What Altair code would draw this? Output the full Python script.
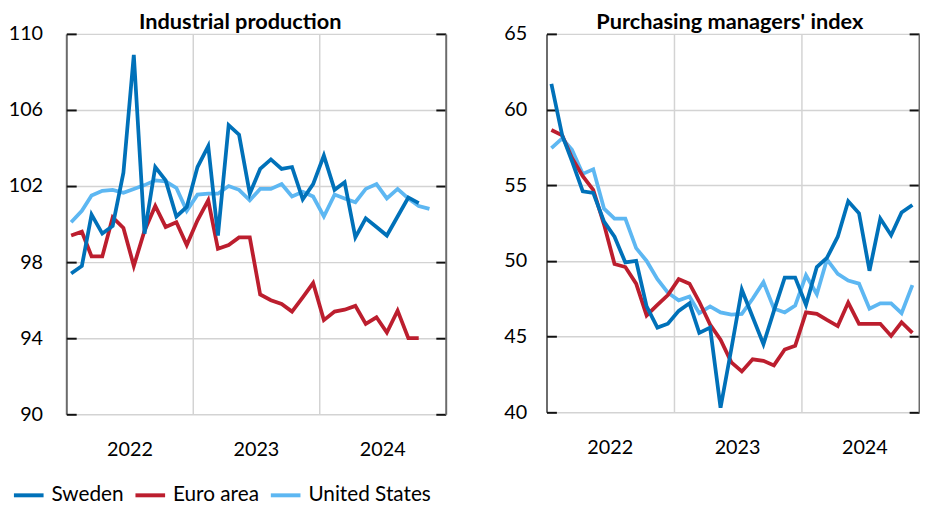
import altair as alt
import pandas as pd

months = [
    "2022-01-15", "2022-02-15", "2022-03-15", "2022-04-15", "2022-05-15", "2022-06-15",
    "2022-07-15", "2022-08-15", "2022-09-15", "2022-10-15", "2022-11-15", "2022-12-15",
    "2023-01-15", "2023-02-15", "2023-03-15", "2023-04-15", "2023-05-15", "2023-06-15",
    "2023-07-15", "2023-08-15", "2023-09-15", "2023-10-15", "2023-11-15", "2023-12-15",
    "2024-01-15", "2024-02-15", "2024-03-15", "2024-04-15", "2024-05-15", "2024-06-15",
    "2024-07-15", "2024-08-15", "2024-09-15", "2024-10-15", "2024-11-15",
]

series_names = ["Sweden", "Euro area", "United States"]
series_colors = ["#0071B9", "#BC1E2E", "#5DB7F2"]

# Industrial production
ip_sweden = [97.4, 97.8, 100.5, 99.5, 99.9, 102.7, 108.9, 99.5, 103.0, 102.3, 100.4, 100.9,
             103.0, 104.1, 99.4, 105.2, 104.7, 101.6, 102.9, 103.4, 102.9, 103.0, 101.3, 102.1,
             103.6, 101.8, 102.2, 99.3, 100.3, 99.85, 99.4, 100.4, 101.4, 101.1]
ip_euro = [99.4, 99.6, 98.3, 98.3, 100.35, 99.8, 97.8, 99.65, 100.95, 99.85, 100.1, 98.9,
           100.2, 101.25, 98.7, 98.9, 99.3, 99.3, 96.3, 96.0, 95.8, 95.4, 96.15, 96.9,
           94.95, 95.4, 95.5, 95.7, 94.75, 95.1, 94.3, 95.45, 94.0, 94.0]
ip_us = [100.1, 100.7, 101.5, 101.75, 101.8, 101.65, 101.85, 102.05, 102.3, 102.25, 101.9, 100.7,
         101.55, 101.6, 101.6, 102.0, 101.8, 101.25, 101.85, 101.85, 102.1, 101.45, 101.7, 101.45,
         100.4, 101.55, 101.35, 101.15, 101.85, 102.1, 101.35, 101.85, 101.35, 100.95, 100.8]

# Purchasing managers' index
pmi_sweden = [61.7, 58.3, 56.6, 54.6, 54.5, 52.6, 51.6, 49.9, 50.0, 47.0, 45.6, 45.85,
              46.7, 47.2, 45.25, 45.6, 40.3, 44.2, 48.1, 46.3, 44.5, 46.7, 48.9, 48.9,
              47.1, 49.6, 50.2, 51.6, 53.95, 53.15, 49.35, 52.8, 51.7, 53.2, 53.7]
pmi_euro = [58.65, 58.3, 56.8, 55.6, 54.7, 52.4, 49.8, 49.6, 48.5, 46.4, 47.1, 47.75,
            48.8, 48.5, 47.3, 45.8, 44.8, 43.3, 42.7, 43.5, 43.4, 43.1, 44.15, 44.4,
            46.6, 46.5, 46.1, 45.7, 47.25, 45.85, 45.85, 45.85, 45.05, 45.95, 45.25]
pmi_us = [57.45, 58.1, 57.35, 55.75, 56.05, 53.45, 52.8, 52.8, 50.85, 50.0, 48.8, 47.9,
          47.4, 47.65, 46.55, 47.0, 46.6, 46.45, 46.5, 47.5, 48.6, 46.85, 46.6, 47.05,
          49.05, 47.8, 50.1, 49.15, 48.7, 48.5, 46.85, 47.2, 47.2, 46.55, 48.4]

ip_ticks = [90, 94, 98, 102, 106, 110]
pmi_ticks = [40, 45, 50, 55, 60, 65]
years = [2022, 2023, 2024]

FONT = "Lato"
GRID = "#D3D3D3"
DOMAIN = "#6B6B6B"


def long_df(d):
    rows = []
    for name, vals in d:
        for m, v in zip(months, vals):
            rows.append({"date": m, "series": name, "value": v})
    return pd.DataFrame(rows)


ip_df = long_df([("United States", ip_us), ("Euro area", ip_euro), ("Sweden", ip_sweden)])
pmi_df = long_df([("United States", pmi_us), ("Euro area", pmi_euro), ("Sweden", pmi_sweden)])

year_starts = [alt.DateTime(year=y, month=1, date=1) for y in years]

legend = alt.Legend(
    orient="none", legendX=-55, legendY=450, direction="horizontal", title=None,
    symbolType="stroke", symbolSize=900, symbolStrokeWidth=4, labelFontSize=21,
    labelFont=FONT, labelOffset=6, columnPadding=3, labelColor="black",
)


def panel(df, title, ydomain, yvalues, xend, width, height, title_offset, title_dx, title_dy,
          xlabel_pad, ylabel_pad):
    ysc = alt.Scale(domain=ydomain, nice=False, zero=False)
    xsc = alt.Scale(domain=[alt.DateTime(year=2022, month=1, date=1), xend])
    x_main = alt.X(
        "date:T", scale=xsc, title=None,
        axis=alt.Axis(values=year_starts, format="%Y", labelOffset=64, labelFlush=False,
                      labelAlign="center", labelAngle=0, grid=True, gridColor=GRID,
                      gridWidth=1.5, ticks=False, domain=False, labelPadding=xlabel_pad,
                      labelFontSize=20, labelFont=FONT, labelColor="black"),
    )
    x_none = alt.X("date:T", scale=xsc, axis=None)
    y_main = alt.Y(
        "value:Q", scale=ysc, title=None,
        axis=alt.Axis(values=yvalues, grid=True, gridColor=GRID, gridWidth=1.5, ticks=False,
                      domain=True, domainColor=DOMAIN, domainWidth=2, labelPadding=ylabel_pad,
                      labelFontSize=20, labelFont=FONT, labelColor="black"),
    )
    y_tl = alt.Y("value:Q", scale=ysc, title=None,
                 axis=alt.Axis(orient="left", values=yvalues, offset=-10, ticks=True,
                               tickSize=10, tickColor="#111111", tickWidth=2, labels=False,
                               domain=False, grid=False))
    y_tr = alt.Y("value:Q", scale=ysc, title=None,
                 axis=alt.Axis(orient="right", values=yvalues, offset=-10, ticks=True,
                               tickSize=10, tickColor="#111111", tickWidth=2, labels=False,
                               domain=False, grid=False))
    y_dr = alt.Y("value:Q", scale=ysc, title=None,
                 axis=alt.Axis(orient="right", values=yvalues, ticks=False, labels=False,
                               domain=True, domainColor=DOMAIN, domainWidth=2, grid=False))
    base = alt.Chart(df)
    lines = base.mark_line(strokeWidth=3.8).encode(
        x=x_main, y=y_main,
        color=alt.Color("series:N", scale=alt.Scale(domain=series_names, range=series_colors),
                        legend=legend),
    )
    l2 = base.mark_line(opacity=0).encode(x=x_none, y=y_tl, detail="series:N")
    l3 = base.mark_line(opacity=0).encode(x=x_none, y=y_tr, detail="series:N")
    l4 = base.mark_line(opacity=0).encode(x=x_none, y=y_dr, detail="series:N")
    return alt.layer(lines, l2, l3, l4).resolve_axis(y="independent", x="independent").properties(
        width=width, height=height,
        title=alt.TitleParams(title, fontSize=22, fontWeight="bold", font=FONT, anchor="middle",
                              offset=title_offset, dx=title_dx, dy=title_dy, color="black"),
    )


left = panel(ip_df, "Industrial production", [90, 110], ip_ticks,
             alt.DateTime(year=2025, month=1, date=1), 384, 385, -10, -16, 0, 26, 24)
right = panel(pmi_df, "Purchasing managers' index", [40, 65], pmi_ticks,
              alt.DateTime(year=2024, month=12, date=4), 377, 383, -10, -3, 0, 26, 20)

chart = alt.hconcat(left, right, spacing=57).resolve_scale(color="shared").properties(
    padding={"left": 0, "top": 0, "right": 0, "bottom": 30}
).configure(font=FONT).configure_view(stroke=None)

chart.save("out.html", embed_options={"renderer": "svg", "actions": False})
